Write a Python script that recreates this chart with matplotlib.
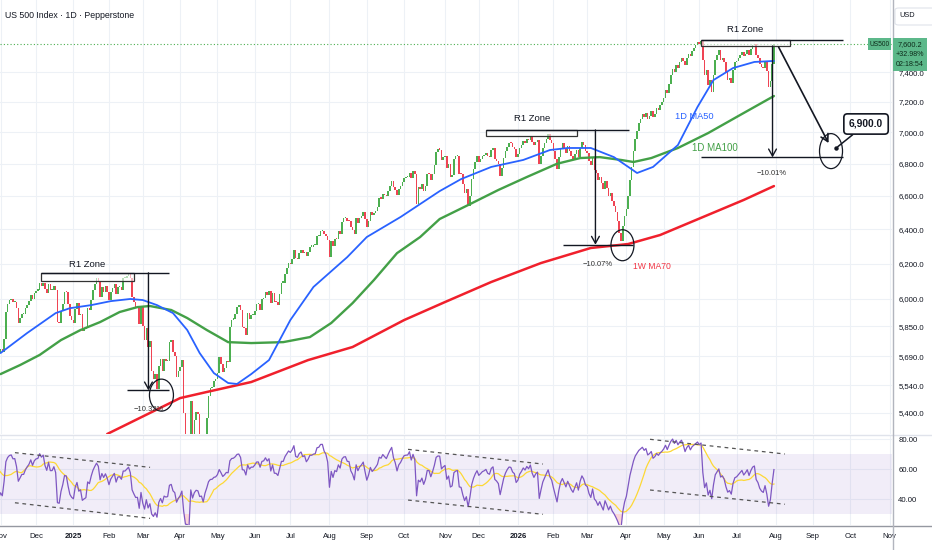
import numpy as np
import pandas as pd
import matplotlib
matplotlib.use("Agg")
import matplotlib.pyplot as plt
from matplotlib import patches, transforms, font_manager as fm
from matplotlib.lines import Line2D
from matplotlib.ticker import FixedLocator, NullLocator, FuncFormatter


def _pick_font(names):
    for n in names:
        try:
            fm.findfont(fm.FontProperties(family=n), fallback_to_default=False)
            return n
        except Exception:
            continue
    return "DejaVu Sans"


FONT = _pick_font(["Liberation Sans Narrow", "Liberation Sans", "DejaVu Sans"])
NARROW = FONT == "Liberation Sans Narrow"
K = 1.0 if NARROW else 0.85   # shrink sizes when only a normal-width face exists
KT = 1.0 if NARROW else 0.93  # tick labels
plt.rcParams["font.family"] = [FONT, "DejaVu Sans"]

# ---------------------------------------------------------------- data
# US500 daily closes, one value per trading day
close_2024_09 = [5528, 5520, 5503, 5408, 5471, 5496, 5554, 5596, 5626, 5633, 5634, 5618, 5714, 5703, 5719, 5732, 5722, 5745, 5738, 5762]
close_2024_10 = [5709, 5709, 5700, 5751, 5696, 5751, 5792, 5780, 5815, 5859, 5815, 5842, 5841, 5865, 5853, 5851, 5797, 5809, 5808, 5823, 5833, 5813, 5705]
close_2024_11 = [5729, 5712, 5782, 5929, 5973, 5995, 6001, 5983, 5985, 5949, 5870, 5893, 5917, 5917, 5948, 5969, 5987, 6021, 5998, 6032]
close_2024_12 = [6047, 6050, 6087, 6075, 6090, 6053, 6034, 6085, 6051, 6051, 6074, 6051, 5872, 5867, 5931, 5974, 6040, 6037, 5971, 5907, 5882]
close_2025_01 = [5869, 5942, 5975, 5909, 5918, 5827, 5836, 5843, 5950, 5937, 5997, 6049, 6086, 6119, 6101, 6012, 6067, 6039, 6071, 6041]
close_2025_02 = [5994, 6038, 6061, 6084, 6026, 6066, 6068, 6052, 6115, 6115, 6129, 6144, 6117, 6013, 5983, 5955, 5956, 5861, 5955]
close_2025_03 = [5850, 5778, 5843, 5739, 5770, 5615, 5572, 5599, 5522, 5639, 5675, 5615, 5675, 5663, 5667, 5768, 5777, 5712, 5693, 5581, 5612]
close_2025_04 = [5633, 5671, 5397, 5074, 5062, 4982, 5457, 5268, 5363, 5406, 5396, 5276, 5283, 5158, 5288, 5376, 5485, 5525, 5529, 5561, 5569]
close_2025_05 = [5604, 5687, 5650, 5607, 5631, 5664, 5660, 5844, 5886, 5892, 5917, 5958, 5964, 5940, 5845, 5842, 5802, 5922, 5889, 5912, 5912]
close_2025_06 = [5936, 5970, 5971, 5939, 6000, 6006, 6039, 6022, 6045, 5977, 6033, 5982, 5981, 5968, 6025, 6092, 6092, 6141, 6173, 6205]
close_2025_07 = [6198, 6227, 6279, 6230, 6226, 6263, 6280, 6260, 6269, 6244, 6264, 6297, 6297, 6306, 6309, 6359, 6363, 6389, 6390, 6371, 6362, 6339]
close_2025_08 = [6238, 6330, 6299, 6345, 6340, 6389, 6374, 6446, 6466, 6469, 6450, 6449, 6411, 6396, 6370, 6467, 6439, 6466, 6481, 6502, 6460]
close_2025_09 = [6416, 6448, 6502, 6482, 6495, 6512, 6532, 6588, 6584, 6615, 6607, 6600, 6632, 6664, 6693, 6657, 6638, 6605, 6644, 6661, 6688]
close_2025_10 = [6711, 6715, 6716, 6740, 6714, 6753, 6735, 6553, 6655, 6644, 6671, 6630, 6664, 6736, 6735, 6699, 6738, 6792, 6875, 6891, 6890, 6822, 6840]
close_2025_11 = [6852, 6771, 6796, 6720, 6728, 6832, 6846, 6851, 6737, 6734, 6672, 6617, 6642, 6538, 6603, 6705, 6766, 6813, 6849]
close_2025_12 = [6812, 6829, 6849, 6857, 6870, 6846, 6840, 6887, 6901, 6827, 6816, 6800, 6721, 6775, 6834, 6878, 6909, 6932, 6930, 6905, 6896, 6845]
close_2026_01 = [6860, 6900, 6920, 6945, 6935, 6960, 6950, 6975, 6940, 6920, 6940, 6950, 6800, 6850, 6900, 6930, 6960, 6990, 6950, 6930]
close_2026_02 = [6880, 6830, 6770, 6840, 6900, 6930, 6900, 6870, 6910, 6880, 6850, 6830, 6860, 6890, 6840, 6900, 6940, 6920, 6880]
close_2026_03 = [6870, 6820, 6790, 6840, 6760, 6740, 6700, 6720, 6680, 6640, 6690, 6650, 6600, 6620, 6570, 6540, 6500, 6450, 6380, 6330, 6420, 6480]
close_2026_04 = [6520, 6600, 6700, 6780, 6880, 6960, 7010, 7060, 7090, 7120, 7100, 7130, 7090, 7110, 7140, 7100, 7120, 7160, 7150, 7180, 7200]
close_2026_05 = [7230, 7280, 7260, 7320, 7380, 7420, 7400, 7450, 7430, 7470, 7500, 7480, 7450, 7500, 7530, 7510, 7550, 7570, 7590, 7610]
close_2026_06 = [7600, 7620, 7486, 7382, 7417, 7314, 7349, 7267, 7382, 7486, 7520, 7555, 7486, 7499, 7471, 7403, 7349, 7362, 7327, 7417, 7471]
close_2026_07 = [7480, 7500, 7520, 7540, 7510, 7530, 7555, 7520, 7560, 7590, 7600, 7520, 7500, 7460, 7440, 7430, 7470, 7410, 7300, 7340, 7460, 7600.2]

# moving averages (bar number counted from 2024-11-01)
ma50_bar = [0, 15, 31, 39, 51, 62, 73, 80, 88, 97, 105, 112, 120, 128, 133, 141, 151, 163, 176, 195, 206,
            225, 247, 259, 276, 294, 309, 319, 332, 345, 354, 358, 367, 381, 392, 401, 412, 424, 435]
ma50_val = [5707, 5814, 5922, 5949, 5966, 5988, 6000, 5994, 5966, 5922, 5830, 5707, 5602, 5551, 5546, 5597, 5670, 5884, 6067, 6237, 6354,
            6473, 6630, 6704, 6780, 6824, 6887, 6900, 6900, 6842, 6773, 6742, 6780, 6919, 7167, 7348, 7430, 7472, 7479]
ma100_bar = [0, 11, 22, 34, 45, 56, 67, 77, 84, 96, 105, 116, 128, 141, 159, 174, 186, 198, 210, 223,
             236, 247, 263, 280, 296, 313, 326, 337, 349, 356, 366, 381, 398, 416, 435]
ma100_val = [5597, 5644, 5697, 5776, 5830, 5873, 5928, 5955, 5961, 5939, 5895, 5830, 5765, 5760, 5765, 5792, 5868, 5977, 6106, 6260,
             6354, 6461, 6545, 6637, 6717, 6800, 6836, 6842, 6824, 6811, 6836, 6900, 6996, 7114, 7240]
ma70w_bar = [60, 101, 116, 141, 173, 198, 227, 250, 276, 304, 332, 353, 371, 418, 435]
ma70w_val = [5295, 5474, 5505, 5556, 5670, 5739, 5884, 5983, 6095, 6203, 6290, 6313, 6366, 6576, 6661]

price_ticks = [5400, 5540, 5690, 5850, 6000, 6200, 6400, 6600, 6800, 7000, 7200, 7400]
rsi_ticks = [40, 60, 80]
target_price = 6900.0

holidays = ["2024-11-28", "2024-12-25", "2025-01-01", "2025-01-09", "2025-01-20", "2025-02-17",
            "2025-04-18", "2025-05-26", "2025-06-19", "2025-07-04", "2025-09-01", "2025-11-27",
            "2025-12-25", "2026-01-01", "2026-01-19", "2026-02-16", "2026-04-03", "2026-05-25",
            "2026-06-19", "2026-07-03", "2026-09-07", "2026-11-26"]

# ---------------------------------------------------------------- prep
closes = np.array(close_2024_09 + close_2024_10 + close_2024_11 + close_2024_12 + close_2025_01 + close_2025_02 +
                  close_2025_03 + close_2025_04 + close_2025_05 + close_2025_06 + close_2025_07 + close_2025_08 +
                  close_2025_09 + close_2025_10 + close_2025_11 + close_2025_12 + close_2026_01 + close_2026_02 +
                  close_2026_03 + close_2026_04 + close_2026_05 + close_2026_06 + close_2026_07, dtype=float)

cal = pd.bdate_range("2024-09-03", "2026-11-30")
cal = cal[~cal.isin(pd.to_datetime(holidays))]
origin = cal.get_loc(pd.Timestamp("2024-11-01"))
bars = np.arange(len(cal)) - origin
n = min(len(closes), len(cal))
closes = closes[:n]
xbar = bars[:n]
opens = np.r_[closes[0], closes[:-1]]

s = pd.Series(closes)
d = s.diff()
g = d.clip(lower=0).ewm(alpha=1 / 14, adjust=False).mean()
l = (-d).clip(lower=0).ewm(alpha=1 / 14, adjust=False).mean()
rsi = (100 - 100 / (1 + g / l)).to_numpy()
rsi_ma = pd.Series(rsi).rolling(14).mean().to_numpy()

month_pos, month_lab = [], []
prev = None
for i, dt in enumerate(cal):
    key = (dt.year, dt.month)
    if key != prev:
        prev = key
        if -1 <= bars[i] <= 502:
            month_pos.append(bars[i])
            month_lab.append(str(dt.year) if dt.month == 1 else dt.strftime("%b"))

# ---------------------------------------------------------------- figure
W, H = 932, 550
INK = "#131722"
UP, DN = "#4caf50", "#ef4454"
fig = plt.figure(figsize=(W / 100, H / 100), dpi=100, facecolor="white")
ax = fig.add_axes([0, 1 - 434 / H, 892 / W, 434 / H])
ax2 = fig.add_axes([0, 1 - 525 / H, 892 / W, 90 / H], sharex=ax)
for a in (ax, ax2):
    for sp in a.spines.values():
        sp.set_visible(False)
    a.set_facecolor("white")
    a.grid(True, color="#edf1f6", lw=0.8)
    a.set_axisbelow(True)

ax.set_xlim(-0.3, 501.4)
ax.set_yscale("log")
ax.set_ylim(5295, 7913)
ax.yaxis.set_major_locator(FixedLocator(price_ticks))
ax.yaxis.set_minor_locator(NullLocator())
ax.yaxis.set_major_formatter(FuncFormatter(lambda v, p: f"{v:,.1f}"))
ax.yaxis.tick_right()
ax.tick_params(axis="y", length=0, pad=4.5, labelsize=6 * KT, labelcolor=INK)
ax.tick_params(axis="x", length=0, labelbottom=False)

ax2.set_ylim(22.67, 82.67)
ax2.yaxis.set_major_locator(FixedLocator(rsi_ticks))
ax2.yaxis.set_major_formatter(FuncFormatter(lambda v, p: f"{v:.2f}"))
ax2.yaxis.tick_right()
ax2.tick_params(axis="y", length=0, pad=4.5, labelsize=6 * KT, labelcolor=INK)
ax2.set_xticks(month_pos)
labs = ax2.set_xticklabels(month_lab)
for t in labs:
    if t.get_text().isdigit():
        t.set_fontweight("bold")
ax2.tick_params(axis="x", length=0, pad=6, labelsize=6 * KT, labelcolor=INK)

# candles
vis = xbar >= -2
o, c, xb = opens[vis], closes[vis], xbar[vis]
up = c >= o
hgt = np.maximum(np.abs(c - o), c * 0.0012)
lo = np.minimum(o, c)
ax.bar(xb[up], hgt[up], bottom=lo[up], width=0.88, color=UP, lw=0, zorder=3)
ax.bar(xb[~up], hgt[~up], bottom=lo[~up], width=0.88, color=DN, lw=0, zorder=3)

# moving averages
ax.plot(ma70w_bar, ma70w_val, color="#f0202c", lw=1.8, zorder=4, solid_capstyle="round")
ax.plot(ma100_bar, ma100_val, color="#43a047", lw=1.7, zorder=4, solid_capstyle="round")
ax.plot(ma50_bar, ma50_val, color="#2962ff", lw=1.3, zorder=4, solid_capstyle="round")

last = closes[-1]
ax.axhline(last, color="#4caf50", lw=0.8, ls=(0, (1, 2)), zorder=2)

# RSI
ax2.axhspan(30, 70, color="#7e57c2", alpha=0.1, lw=0, zorder=1)
r, rm = rsi[vis], rsi_ma[vis]
ax2.fill_between(xb, r, 30, where=r < 30, interpolate=True, color="#f23645", alpha=0.2, lw=0, zorder=2)
ax2.plot(xb, rm, color="#fdd835", lw=0.9, zorder=3)
ax2.plot(xb, r, color="#7e57c2", lw=0.9, zorder=4)

chan = [([8.1, 84.1], [70.9, 61.1]), ([8.1, 84.1], [37.5, 27.1]),
        ([229.2, 305.1], [73.1, 63.3]), ([229.2, 305.1], [39.3, 29.8]),
        ([365.3, 441.2], [79.8, 70.0]), ([365.3, 441.2], [46.0, 36.5])]
for xs, ys in chan:
    ax2.plot(xs, ys, color="#555555", lw=0.9, ls=(0, (3, 3)), zorder=5)

# ---------------------------------------------------------------- drawings
def hline(x0, x1, p, col=INK, lw=1.0):
    ax.plot([x0, x1], [p, p], color=col, lw=lw, zorder=6, solid_capstyle="butt")


def arrow(x0, p0, x1, p1, lw=1.0):
    ax.annotate("", xy=(x1, p1), xytext=(x0, p0), zorder=6,
                arrowprops=dict(arrowstyle="->,head_length=0.5,head_width=0.28", color=INK, lw=lw,
                                shrinkA=0, shrinkB=0))


def ellipse(xc, pc, wpx, hpx):
    tr = fig.dpi_scale_trans + transforms.ScaledTranslation(xc, pc, ax.transData)
    ax.add_patch(patches.Ellipse((0, 0), wpx / 100, hpx / 100, transform=tr, fill=False,
                                 ec=INK, lw=0.9, zorder=6))


def zone(x0, x1, plo, phi, xext, label_p):
    ax.add_patch(patches.Rectangle((x0, plo), x1 - x0, phi - plo, fc="white", alpha=0.6, ec="none", zorder=5))
    ax.add_patch(patches.Rectangle((x0, plo), x1 - x0, phi - plo, fill=False, ec="#333333", lw=0.9, zorder=6))
    hline(x0, xext, phi)
    ax.text((x0 + x1) / 2, label_p, "R1 Zone", ha="center", va="center", fontsize=8 * K, color=INK, zorder=7)


# left
zone(23, 74.8, 6101, 6147, 94.5, 6197)
arrow(83.2, 6147, 83.2, 5513)
hline(71.4, 94.5, 5513)
ellipse(90.5, 5489, 24, 32)
ax.text(83.2, 5414, "\u221210.32%", ha="center", va="center", fontsize=6.5 * K, color="#333333", zorder=7)

# middle
zone(273.3, 324.5, 6977, 7016, 353.2, 7088)
arrow(334.6, 7016, 334.6, 6309)
hline(316.6, 356, 6309)
ellipse(349.8, 6306, 23, 31)
ax.text(335.8, 6197, "\u221210.07%", ha="center", va="center", fontsize=6.5 * K, color="#333333", zorder=7)
ax.text(356, 6185, "1W MA70", ha="left", va="center", fontsize=7.3 * K, color="#f23645", zorder=7)

# right
zone(393.7, 444.3, 7583, 7625, 473.6, 7703)
arrow(434.2, 7583, 434.2, 6840)
hline(393.7, 473.6, 6840)
ax.text(434, 6736, "\u221210.01%", ha="center", va="center", fontsize=6.5 * K, color="#333333", zorder=7)
arrow(437.6, 7576, 465.7, 6932, lw=1.2)
ellipse(467.1, 6880, 23, 35)
ax.plot([470], [target_price], "o", ms=2.2, color=INK, zorder=7)
ax.annotate(f"{target_price:,.1f}", xy=(470, target_price), xytext=(486.8, 7055), ha="center", va="center",
            fontsize=8.7 * K, fontweight="bold", color=INK, zorder=8,
            bbox=dict(boxstyle="round,pad=0.5,rounding_size=0.35", fc="white", ec=INK, lw=1.2),
            arrowprops=dict(arrowstyle="-", color=INK, lw=1.1, shrinkA=0, shrinkB=1.5))
ax.text(379.3, 7101, "1D MA50", ha="left", va="center", fontsize=7.8 * K, color="#2962ff", zorder=7)
ax.text(388.9, 6900, "1D MA100", ha="left", va="center", fontsize=8.3 * K, color="#43a047", zorder=7)

# ---------------------------------------------------------------- chrome
def fx(x):
    return x / W


def fy(y):
    return 1 - y / H


fig.add_artist(Line2D([0, 1], [fy(434.5)] * 2, transform=fig.transFigure, color="#e0e3eb", lw=1))
fig.add_artist(Line2D([0, 1], [fy(525.5)] * 2, transform=fig.transFigure, color="#9598a1", lw=1))
fig.add_artist(Line2D([fx(892.5)] * 2, [0, 1], transform=fig.transFigure, color="#b2b5be", lw=1))

fig.text(fx(5), fy(15.5), "US 500 Index \u00b7 1D \u00b7 Pepperstone", ha="left", va="center",
         fontsize=7.4 * K, color=INK)

fig.add_artist(patches.FancyBboxPatch((fx(895), fy(25)), fx(40), 17 / H, transform=fig.transFigure,
                                      boxstyle="round,pad=0,rounding_size=0.004", fc="white",
                                      ec="#e0e3eb", lw=0.8))
fig.text(fx(907), fy(15.5), "USD", ha="center", va="center", fontsize=6.3 * K, color=INK)

ly = H - ax.transData.transform((0, last))[1]
TAG = "#5cb88a"
fig.add_artist(patches.Rectangle((fx(868), fy(ly + 6)), fx(23), 12 / H, transform=fig.transFigure,
                                 fc=TAG, ec="none", zorder=10))
fig.text(fx(879.5), fy(ly + 0.5), "US500", ha="center", va="center", fontsize=5.6 * K, color="#0d2b1a", zorder=11)
fig.add_artist(patches.Rectangle((fx(893), fy(ly + 27)), fx(34), 33 / H, transform=fig.transFigure,
                                 fc=TAG, ec="none", zorder=10))
fig.text(fx(910), fy(ly + 0.5), f"{last:,.1f}", ha="center", va="center", fontsize=6.2 * K, color="#0d2b1a", zorder=11)
fig.text(fx(910), fy(ly + 10.5), "+32.98%", ha="center", va="center", fontsize=6 * K, color="#0d2b1a", zorder=11)
fig.text(fx(910), fy(ly + 21), "02:18:54", ha="center", va="center", fontsize=6 * K, color="#0d2b1a", zorder=11)

fig.savefig("out.png", dpi=100, facecolor="white")
